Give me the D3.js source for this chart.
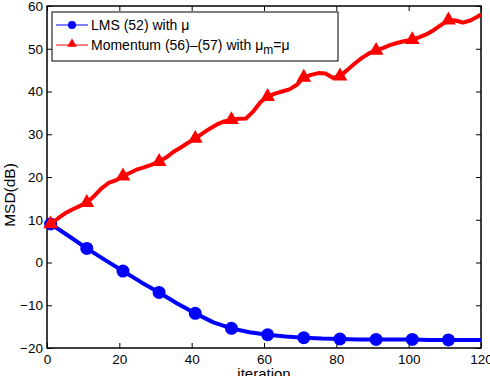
<!DOCTYPE html>
<html>
<head>
<meta charset="utf-8">
<script src="https://cdn.jsdelivr.net/npm/d3@7"></script>
<style>
body { margin:0; background:#fff; }
text { font-family: "Liberation Sans", Arial, sans-serif; }
</style>
</head>
<body>
<div id="chart-area"></div>
<script>
// MSD curves
var lmsIter = [1, 6, 11, 16, 21, 26, 31, 36, 41, 46, 51, 56, 61, 66, 71, 76, 81, 86, 91, 96, 101, 106, 111, 116, 120];
var lmsMsd  = [9, 6.2, 3.3, 0.6, -2, -4.6, -7, -9.6, -11.9, -14, -15.4, -16.3, -16.9, -17.3, -17.6, -17.8, -17.9, -18, -18, -18, -18, -18.1, -18.1, -18.1, -18.1];
var lmsMarkIter = [1, 11, 21, 31, 41, 51, 61, 71, 81, 91, 101, 111];

var momIter = [1, 3, 5, 7, 9, 11, 13, 15, 17, 19, 21, 23, 25, 27, 29, 31, 33, 35, 37, 39, 41, 43, 45, 47, 49, 51, 53, 55, 57, 59,
	61, 63, 65, 67, 69, 71, 73, 75, 77, 79, 81, 83, 85, 87, 89, 91, 93, 95, 97, 99, 101, 103, 105, 107, 109, 111, 113, 115, 117, 119, 120];
var momMsd  = [9, 10.3, 11.5, 12.4, 13.2, 14, 15.5, 17.3, 18.6, 19.2, 20.2, 21, 21.8, 22.3, 22.9, 23.6, 24.6, 25.9, 26.9, 28, 29, 30.2, 31.3, 32.3, 33, 33.4, 33.6, 33.7, 35.3, 37.5,
	38.8, 39.5, 40, 40.5, 41.5, 43.3, 43.9, 44.3, 44.2, 43.2, 43.6, 45, 46.5, 47.8, 48.9, 49.6, 50.2, 50.9, 51.4, 51.8, 52.1, 52.7, 53.4, 54.4, 55.6, 56.7, 56.6, 56.1, 56.6, 57.5, 58];
var momMarkIter = [1, 11, 21, 31, 41, 51, 61, 71, 81, 91, 101, 111];

var xTicks = [0, 20, 40, 60, 80, 100, 120];
var yTicks = [-20, -10, 0, 10, 20, 30, 40, 50, 60];

var margin = { top:6, right:9, bottom:28, left:47 };
var width = 490 - margin.left - margin.right;
var height = 376 - margin.top - margin.bottom;

var svg = d3.select("#chart-area")
	.append("svg")
		.attr("width", 490)
		.attr("height", 376);
var g = svg.append("g")
	.attr("transform", "translate(" + margin.left + "," + margin.top + ")");

var x = d3.scaleLinear().domain([0, 120]).range([0, width]);
var y = d3.scaleLinear().domain([-20, 60]).range([height, 0]);

// axes, ticks inward on all four sides (matlab box)
function styleAxis(sel) {
	sel.select(".domain").remove();
	sel.selectAll("line").attr("stroke", "#000");
	sel.selectAll("text").attr("font-size", "13.5px").attr("fill", "#000");
}
g.append("g").attr("transform", "translate(0," + height + ")")
	.call(d3.axisBottom(x).tickValues(xTicks).tickSizeInner(-5).tickSizeOuter(0).tickPadding(6).tickFormat(d3.format("d")))
	.call(styleAxis);
g.append("g")
	.call(d3.axisTop(x).tickValues(xTicks).tickSizeInner(-5).tickSizeOuter(0).tickFormat(""))
	.call(styleAxis);
g.append("g")
	.call(d3.axisLeft(y).tickValues(yTicks).tickSizeInner(-5).tickSizeOuter(0).tickPadding(4).tickFormat(function(d){ return d < 0 ? "\u2212" + (-d) : d; }))
	.call(styleAxis);
g.append("g").attr("transform", "translate(" + width + ",0)")
	.call(d3.axisRight(y).tickValues(yTicks).tickSizeInner(-5).tickSizeOuter(0).tickFormat(""))
	.call(styleAxis);

g.append("rect")
	.attr("width", width).attr("height", height)
	.attr("fill", "none").attr("stroke", "#000").attr("stroke-width", 1.5);

g.append("text")
	.attr("x", width / 2).attr("y", height + 31)
	.attr("font-size", "15px").attr("text-anchor", "middle")
	.text("iteration");
g.append("text")
	.attr("transform", "rotate(-90)")
	.attr("x", -height / 2 - 18).attr("y", -32)
	.attr("font-size", "15.5px").attr("text-anchor", "middle")
	.text("MSD(dB)");

var line = d3.line()
	.x(function(d){ return x(d[0]); })
	.y(function(d){ return y(d[1]); });

var lmsData = lmsIter.map(function(d, i){ return [d, lmsMsd[i]]; });
var momData = momIter.map(function(d, i){ return [d, momMsd[i]]; });

function valueAt(data, it) {
	var xs = data.map(function(d){ return d[0]; });
	var ys = data.map(function(d){ return d[1]; });
	return d3.scaleLinear().domain(xs).range(ys)(it);
}

var tri = d3.symbol().type(d3.symbolTriangle);

g.append("path")
	.datum(lmsData)
	.attr("d", line)
	.attr("fill", "none").attr("stroke", "#0000ff").attr("stroke-width", 4).attr("stroke-linejoin", "round");

g.selectAll(".lmsMark")
	.data(lmsMarkIter)
	.enter().append("circle")
		.attr("class", "lmsMark")
		.attr("cx", function(d){ return x(d); })
		.attr("cy", function(d){ return y(valueAt(lmsData, d)); })
		.attr("r", 6.5)
		.attr("fill", "#0000ff");

g.append("path")
	.datum(momData)
	.attr("d", line)
	.attr("fill", "none").attr("stroke", "#ff0000").attr("stroke-width", 4).attr("stroke-linejoin", "round");

g.selectAll(".momMark")
	.data(momMarkIter)
	.enter().append("path")
		.attr("class", "momMark")
		.attr("transform", function(d){ return "translate(" + x(d) + "," + y(valueAt(momData, d)) + ")"; })
		.attr("d", tri.size(95))
		.attr("fill", "#ff0000");

// legend
var leg = svg.append("g").attr("transform", "translate(52,12)");
leg.append("rect")
	.attr("width", 286).attr("height", 49)
	.attr("fill", "#fff").attr("stroke", "#000").attr("stroke-width", 1);

leg.append("line").attr("x1", 4).attr("x2", 36).attr("y1", 13).attr("y2", 13)
	.attr("stroke", "#0000ff").attr("stroke-width", 1);
leg.append("circle").attr("cx", 20).attr("cy", 13).attr("r", 4).attr("fill", "#0000ff");
leg.append("text").attr("x", 39).attr("y", 18).attr("font-size", "14px")
	.text("LMS (52) with \u03bc");

leg.append("line").attr("x1", 4).attr("x2", 36).attr("y1", 33).attr("y2", 33)
	.attr("stroke", "#ff0000").attr("stroke-width", 1);
leg.append("path").attr("transform", "translate(20,32)").attr("d", tri.size(40)).attr("fill", "#ff0000");
var t2 = leg.append("text").attr("x", 39).attr("y", 38).attr("font-size", "14px");
t2.append("tspan").text("Momentum (56)\u2013(57) with \u03bc");
t2.append("tspan").attr("dy", 4).attr("font-size", "12px").text("m");
t2.append("tspan").attr("dy", -4).text("=\u03bc");
</script>
</body>
</html>
